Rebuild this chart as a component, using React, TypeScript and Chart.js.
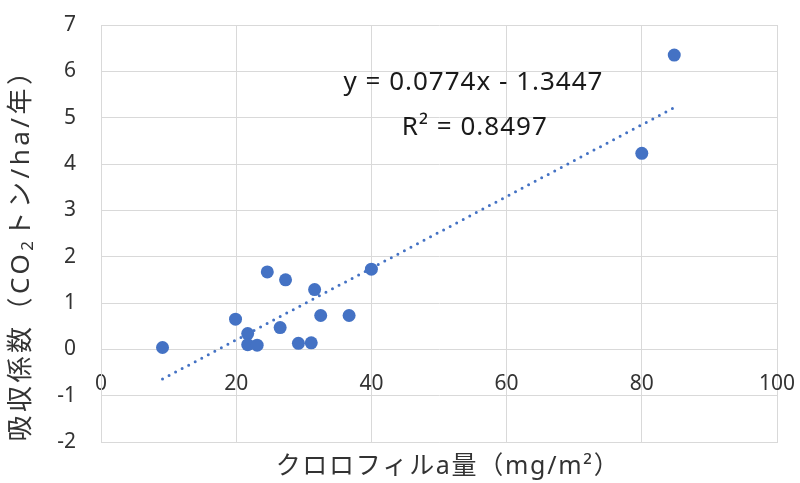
import React, { useEffect, useRef } from "react";
import { Chart, registerables } from "chart.js";

Chart.register(...registerables);

// Chlorophyll a (mg/m2) and CO2 absorption coefficient (t/ha/yr)
const chlorophyll = [9.1, 19.9, 21.7, 21.7, 23.1, 24.6, 26.5, 27.3, 29.2, 31.1, 31.6, 32.5, 36.7, 40.0, 80.0, 84.8];
const absorption = [0.04, 0.65, 0.34, 0.1, 0.09, 1.67, 0.47, 1.5, 0.13, 0.14, 1.29, 0.73, 0.73, 1.73, 4.23, 6.35];

const trendSlope = 0.0774;
const trendIntercept = -1.3447;
const rSquared = 0.8497;

const xRange = [0, 100];
const yRange = [-2, 7];

const xTitle = "クロロフィルa量（mg/m²）";
const yTitleParts = ["吸収係数（CO", "2", "トン/ha/年）"];

const FONT = "'Noto Sans', 'Noto Sans CJK JP', sans-serif";
const TEXT = "#333333";
const GRID = "#d9d9d9";
const BLUE = "#4472C4";

export default function App() {
  const ref = useRef<HTMLCanvasElement | null>(null);

  useEffect(() => {
    if (!ref.current) return;
    const pts = chlorophyll.map((x, i) => ({ x, y: absorption[i] }));
    const xMin = Math.min(...chlorophyll);
    const xMax = Math.max(...chlorophyll);
    const trend = [xMin, xMax].map((x) => ({ x, y: trendSlope * x + trendIntercept }));

    const overlay = {
      id: "overlayText",
      beforeDraw(chart: any) {
        (chart.ctx as any).letterSpacing = "0px";
      },
      afterDraw(chart: any) {
        const ctx = chart.ctx as any;
        const xs = chart.scales.x;
        const ys = chart.scales.y;
        const area = chart.chartArea;

        // trendline equation labels
        ctx.save();
        ctx.fillStyle = "#1a1a1a";
        ctx.font = `26px ${FONT}`;
        ctx.letterSpacing = "1px";
        ctx.textAlign = "center";
        ctx.textBaseline = "middle";
        const sign = trendIntercept < 0 ? "-" : "+";
        ctx.fillText(
          `y = ${trendSlope.toFixed(4)}x ${sign} ${Math.abs(trendIntercept).toFixed(4)}`,
          xs.getPixelForValue(55.1),
          ys.getPixelForValue(5.76)
        );
        ctx.fillText(`R² = ${rSquared.toFixed(4)}`, xs.getPixelForValue(55.3), ys.getPixelForValue(4.79));
        ctx.letterSpacing = "0px";
        ctx.restore();

        // x axis title
        ctx.save();
        ctx.fillStyle = TEXT;
        ctx.font = `25px ${FONT}`;
        ctx.letterSpacing = "1.7px";
        ctx.textAlign = "center";
        ctx.textBaseline = "middle";
        ctx.fillText(xTitle, (area.left + area.right) / 2 + 9, area.bottom + 25);
        ctx.letterSpacing = "0px";
        ctx.restore();

        // y axis title with subscript
        ctx.save();
        ctx.fillStyle = TEXT;
        ctx.textBaseline = "middle";
        ctx.textAlign = "left";
        ctx.letterSpacing = "3.5px";
        const big = `26px ${FONT}`;
        const small = `17px ${FONT}`;
        const widths = yTitleParts.map((t, i) => {
          ctx.font = i === 1 ? small : big;
          return ctx.measureText(t).width;
        });
        const total = widths.reduce((a: number, b: number) => a + b, 0);
        const cy = (area.top + area.bottom) / 2 + 15;
        ctx.translate(22, cy);
        ctx.rotate(-Math.PI / 2);
        let pos = -total / 2;
        yTitleParts.forEach((t, i) => {
          ctx.font = i === 1 ? small : big;
          ctx.fillText(t, pos, i === 1 ? 6 : 0);
          pos += widths[i];
        });
        ctx.letterSpacing = "0px";
        ctx.restore();
      },
    };

    const chart = new Chart(ref.current, {
      type: "scatter",
      data: {
        datasets: [
          {
            label: "data",
            data: pts,
            xAxisID: "x",
            yAxisID: "y",
            backgroundColor: BLUE,
            borderColor: BLUE,
            pointRadius: 6.5,
            pointBorderWidth: 0,
            order: 1,
          },
          {
            type: "line",
            label: "trend",
            data: trend,
            xAxisID: "x",
            yAxisID: "y",
            borderColor: BLUE,
            borderWidth: 3,
            borderDash: [0, 7.4],
            borderCapStyle: "round",
            pointRadius: 0,
            fill: false,
            showLine: true,
            order: 2,
          } as any,
        ],
      },
      options: {
        animation: false,
        responsive: true,
        maintainAspectRatio: false,
        layout: { autoPadding: false, padding: { left: 0, right: 23, top: 25, bottom: 0 } },
        plugins: { legend: { display: false }, tooltip: { enabled: false } },
        scales: {
          x: {
            type: "linear",
            position: "bottom",
            min: xRange[0],
            max: xRange[1],
            ticks: { display: false, stepSize: 20, padding: 0 },
            grid: { color: GRID, lineWidth: 1, drawTicks: false },
            border: { display: true, color: GRID },
            title: { display: false },
            afterFit: (s: any) => {
              s.height = 41;
            },
          },
          xZero: {
            type: "linear",
            axis: "x",
            position: { y: 0 },
            min: xRange[0],
            max: xRange[1],
            ticks: { stepSize: 20, color: TEXT, font: { family: FONT, size: 21 }, padding: 0 },
            grid: { display: false, drawTicks: true, tickLength: 22 },
            border: { display: false },
            afterFit: (s: any) => {
              s.height = 0;
            },
          },
          y: {
            type: "linear",
            min: yRange[0],
            max: yRange[1],
            ticks: { stepSize: 1, color: TEXT, font: { family: FONT, size: 21 }, padding: 0 },
            grid: { color: GRID, lineWidth: 1, drawTicks: true, tickLength: 25, tickColor: "rgba(0,0,0,0)" },
            border: { display: true, color: GRID },
            afterFit: (s: any) => {
              s.width = 101;
            },
          },
        } as any,
      },
      plugins: [overlay],
    });
    return () => chart.destroy();
  }, []);

  return (
    <div style={{ position: "absolute", left: 0, top: 0, width: 800, height: 483, background: "#fff" }}>
      <canvas ref={ref} />
    </div>
  );
}
